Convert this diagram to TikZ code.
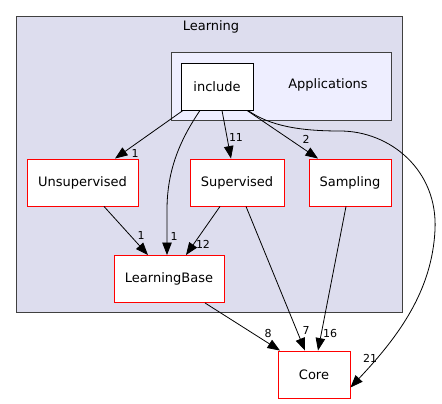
\documentclass[tikz,border=0pt]{standalone}
\usepackage{fontspec}
\setmainfont{DejaVu Sans}
\usetikzlibrary{arrows.meta}
\definecolor{clusterA}{HTML}{DDDDEE}
\definecolor{clusterB}{HTML}{EEEEFF}
\definecolor{clusterline}{HTML}{404040}
\begin{document}
\begin{tikzpicture}[x=1pt,y=-1pt,
  dirbox/.style={draw=red,fill=white,line width=0.9pt,minimum width=#1,minimum height=47pt,inner sep=0pt,font=\fontsize{13}{15}\selectfont},
  dirbox/.default=72pt,
  incbox/.style={draw=black,fill=white,line width=0.9pt,minimum width=72pt,minimum height=47pt,inner sep=0pt,font=\fontsize{13}{15}\selectfont},
  dep/.style={draw=black,line width=0.8pt,-{Triangle[length=12.5pt,width=9.5pt]}},
  lbl/.style={font=\fontsize{11}{12}\selectfont,inner sep=0pt},
  ctitle/.style={font=\fontsize{13}{15}\selectfont,inner sep=0pt}]
\useasboundingbox (0,0) rectangle (442,404);
% clusters
\draw[fill=clusterA,draw=clusterline,line width=0.9pt] (16,16) rectangle (402,312);
\node[ctitle] (learning) at (211,27) {Learning};
\draw[fill=clusterB,draw=clusterline,line width=0.9pt] (171,52) rectangle (391,120);
\node[ctitle] (apps) at (328,85) {Applications};
% nodes
\node[incbox] (include) at (217,86.5) {include};
\node[dirbox=111pt] (unsup) at (82.5,182.5) {Unsupervised};
\node[dirbox=94pt] (sup) at (237,182.5) {Supervised};
\node[dirbox=82pt] (samp) at (350,182.5) {Sampling};
\node[dirbox=110pt] (lb) at (169,279) {LearningBase};
\node[dirbox=72pt] (core) at (314,374.5) {Core};
% edges
\draw[dep] ([xshift=-34pt]include.south) -- ([xshift=32.5pt]unsup.north);
\node[lbl] (l1) at (135,153) {1};
\draw[dep] ([xshift=-17pt]include.south) .. controls (180,140) and (167,170) .. (167,210) -- ([xshift=-2pt]lb.north);
\node[lbl] (l2) at (174,236) {1};
\draw[dep] ([xshift=5pt]include.south) -- ([xshift=-6pt]sup.north);
\node[lbl] (l3) at (236,137) {11};
\draw[dep] ([xshift=30pt]include.south) -- ([xshift=-32pt]samp.north);
\node[lbl] (l4) at (306,139) {2};
\draw[dep] ([xshift=31pt]include.south) .. controls (270,126) and (300,131) .. (340,131) .. controls (390,131) and (438,170) .. (435,230) .. controls (432,290) and (400,335) .. ([yshift=-13pt]core.east);
\node[lbl] (l5) at (370,358) {21};
\draw[dep] ([xshift=21.5pt]unsup.south) -- ([xshift=-21pt]lb.north);
\node[lbl] (l6) at (141,235) {1};
\draw[dep] ([xshift=-17pt]sup.south) -- ([xshift=17pt]lb.north);
\node[lbl] (l7) at (203,244) {12};
\draw[dep] ([xshift=9pt]sup.south) -- ([xshift=-9pt]core.north);
\node[lbl] (l8) at (306,330) {7};
\draw[dep] ([xshift=-4pt]samp.south) -- ([xshift=4pt]core.north);
\node[lbl] (l9) at (330,333) {16};
\draw[dep] ([xshift=36pt]lb.south) -- ([xshift=-34pt]core.north);
\node[lbl] (l10) at (268,333) {8};
\end{tikzpicture}
\end{document}
